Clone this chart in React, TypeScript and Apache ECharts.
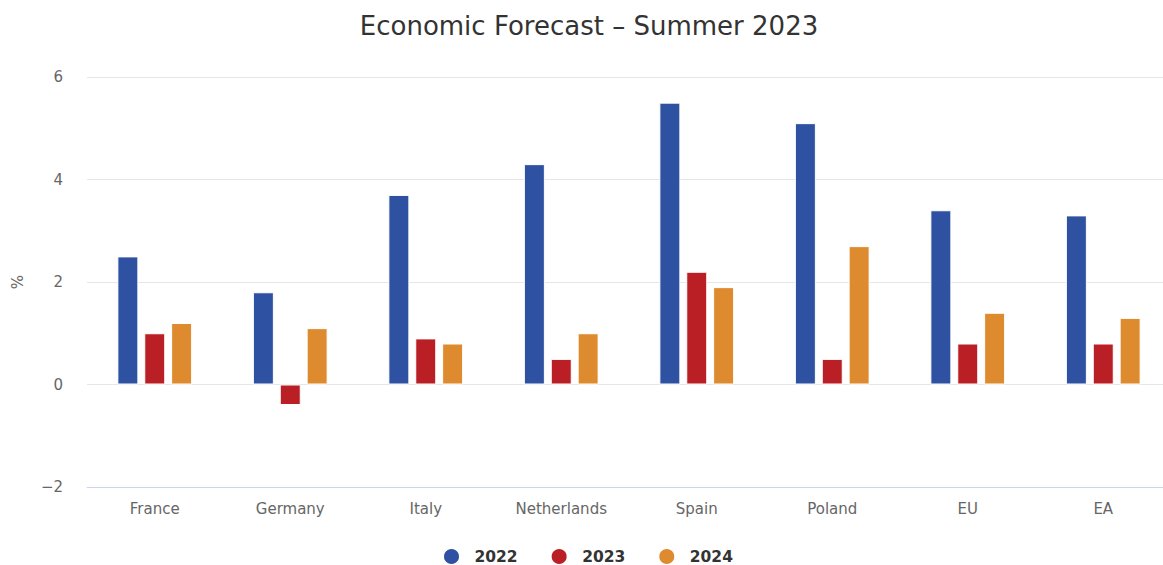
import React, { useEffect, useRef } from "react";
import * as echarts from "echarts";

const categories = ["France", "Germany", "Italy", "Netherlands", "Spain", "Poland", "EU", "EA"];
const seriesNames = ["2022", "2023", "2024"];
const values2022 = [2.5, 1.8, 3.7, 4.3, 5.5, 5.1, 3.4, 3.3];
const values2023 = [1.0, -0.4, 0.9, 0.5, 2.2, 0.5, 0.8, 0.8];
const values2024 = [1.2, 1.1, 0.8, 1.0, 1.9, 2.7, 1.4, 1.3];
const colors = ["#2e52a1", "#b91f25", "#dd8b2e"];

export default function App() {
  const ref = useRef<HTMLDivElement>(null);
  useEffect(() => {
    if (!ref.current) return;
    const chart = echarts.init(ref.current, null, { renderer: "svg" });
    const font = "'DejaVu Sans', sans-serif";
    const data = [values2022, values2023, values2024];
    chart.setOption({
      animation: false,
      color: colors,
      textStyle: { fontFamily: font },
      title: {
        text: "Economic Forecast \u2013 Summer 2023",
        left: "center",
        top: 8,
        textStyle: { fontFamily: font, fontSize: 26, fontWeight: "normal", color: "#333333" },
      },
      legend: {
        top: 547,
        left: 442,
        padding: 0,
        icon: "circle",
        symbolKeepAspect: true,
        itemWidth: 36,
        itemHeight: 17,
        itemGap: 32,
        textStyle: { fontFamily: font, fontSize: 15.5, fontWeight: "bold", color: "#333333" },
        data: seriesNames,
      },
      grid: { left: 87, right: 7, top: 77, bottom: 78 },
      xAxis: {
        type: "category",
        data: categories,
        axisLine: { onZero: false, lineStyle: { color: "#ccd6eb" } },
        axisTick: { show: false },
        axisLabel: { color: "#666666", fontSize: 15, margin: 14, fontFamily: font },
      },
      yAxis: {
        type: "value",
        min: -2,
        max: 6,
        interval: 2,
        name: "%",
        nameLocation: "middle",
        nameRotate: 90,
        nameGap: 62,
        nameTextStyle: { color: "#666666", fontSize: 15, fontFamily: font },
        axisLine: { show: false },
        axisTick: { show: false },
        axisLabel: {
          color: "#666666",
          fontSize: 15,
          margin: 24,
          fontFamily: font,
          formatter: (v: number) => String(v).replace("-", "\u2212"),
        },
        splitLine: { lineStyle: { color: "#e6e6e6" } },
      },
      series: seriesNames.map((n, i) => ({
        name: n,
        type: "bar",
        data: data[i],
        barWidth: 21,
        barGap: "28%",
        itemStyle: { color: colors[i], borderColor: "#ffffff", borderWidth: 1 },
      })),
    });
    return () => chart.dispose();
  }, []);
  return (
    <div style={{ position: "fixed", left: 0, top: 0, width: 1163, height: 565, overflow: "hidden", background: "#ffffff" }}>
      <div ref={ref} style={{ width: 1178, height: 565 }} />
    </div>
  );
}
